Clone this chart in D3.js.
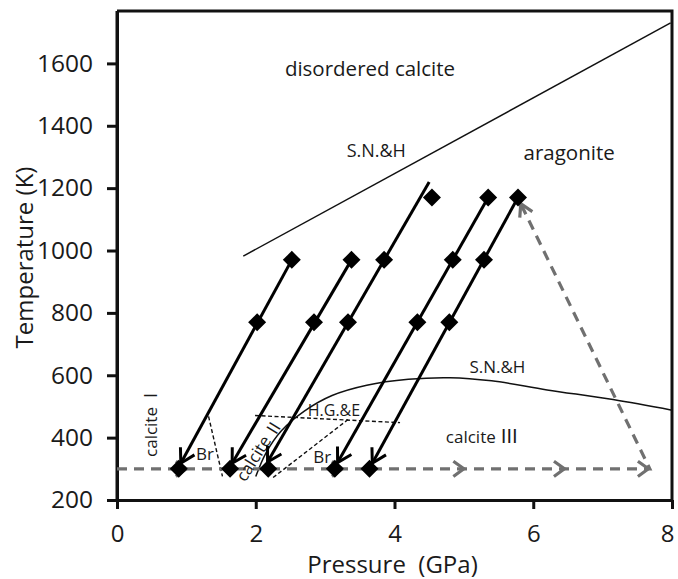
<!DOCTYPE html>
<html>
<head>
<meta charset="utf-8">
<script src="https://cdnjs.cloudflare.com/ajax/libs/d3/7.8.5/d3.min.js"></script>
<style>
  html, body { margin: 0; padding: 0; background: #fff; }
  svg { display: block; }
  text { font-family: "Open Sans", "Noto Sans", sans-serif; fill: #1a1a1a; }
  .rn { font-family: "Noto Sans CJK JP", serif; }
</style>
</head>
<body>
<svg id="chart" width="678" height="579"></svg>
<script>
// ---------- data ----------
const xTicks = [0, 2, 4, 6, 8];
const yTicks = [200, 400, 600, 800, 1000, 1200, 1400, 1600];

// solid compression paths (start at high T, arrow to ~300 K)
const pathStartP = [2.52, 3.38, 4.50, 5.35, 5.78];
const pathStartT = [970, 970, 1220, 1170, 1170];
const pathTipP   = [0.92, 1.66, 2.17, 3.18, 3.68];
const pathTipT   = [318, 318, 322, 320, 318];

// diamond markers
const diamondP = [2.52, 3.38, 3.85, 4.84, 5.29,
                  2.02, 2.84, 3.33, 4.33, 4.79,
                  4.54, 5.35, 5.78,
                  0.89, 1.63, 2.18, 3.14, 3.64];
const diamondT = [970, 970, 970, 970, 970,
                  770, 770, 770, 770, 770,
                  1170, 1170, 1170,
                  300, 300, 300, 300, 300];

// grey dashed path (room-temperature compression then heating)
const greyP = [0, 7.68, 5.82];
const greyT = [300, 300, 1150];
const chevronP = [1.0, 3.25, 5.0, 6.45, 7.66];

// phase boundaries
const upperBoundP = [1.82, 7.98];
const upperBoundT = [982, 1730];
const lowerBoundP = [2.0, 2.15, 2.37, 2.7, 3.1, 3.6, 4.2, 4.8, 5.4, 6.2, 7.15, 8.0];
const lowerBoundT = [275, 352, 422, 485, 535, 568, 587, 592, 582, 553, 522, 488];

// dotted boundaries
const brP = [1.32, 1.52];
const brT = [468, 276];
const hgeP = [1.99, 4.08];
const hgeT = [471, 448];
const diagP = [2.25, 3.33];
const diagT = [272, 458];

// ---------- scales ----------
const svg = d3.select("#chart");
const x = d3.scaleLinear().domain([0, 8]).range([117, 672]);
const y = d3.scaleLinear().domain([200, 1768]).range([500, 11]);

const zip = (a, b) => a.map((v, i) => [v, b[i]]);
const line = d3.line().x(d => x(d[0])).y(d => y(d[1]));

// ---------- axes ----------
const gx = svg.append("g").attr("transform", `translate(0,${y(200)})`)
  .call(d3.axisBottom(x).tickValues(xTicks).tickSize(9).tickSizeOuter(0).tickPadding(16).tickFormat(d3.format("d")));
const gy = svg.append("g").attr("transform", `translate(${x(0)},0)`)
  .call(d3.axisLeft(y).tickValues(yTicks).tickSize(10).tickSizeOuter(0).tickPadding(14).tickFormat(d3.format("d")));
[gx, gy].forEach(g => {
  g.selectAll("path.domain").attr("stroke", "#111").attr("stroke-width", 3);
  g.selectAll(".tick line").attr("stroke", "#111").attr("stroke-width", 3);
  g.selectAll(".tick text").attr("font-size", 24.5).attr("font-family", "'Open Sans', sans-serif").attr("fill", "#1a1a1a");
});
gx.selectAll(".tick text").attr("font-size", 24).filter(d => d === 8).attr("dx", -5);

// frame top & right
svg.append("path")
  .attr("d", `M${x(0)},${y(1768)} L${x(8)},${y(1768)} L${x(8)},${y(200)}`)
  .attr("fill", "none").attr("stroke", "#111").attr("stroke-width", 3);
svg.append("line").attr("x1", x(0)).attr("x2", x(0)).attr("y1", y(1768)).attr("y2", y(200))
  .attr("stroke", "#111").attr("stroke-width", 3);

// axis titles
svg.append("text").attr("x", x(4) - 2).attr("y", 573).attr("text-anchor", "middle")
  .attr("font-size", 24).attr("xml:space", "preserve").text("Pressure  (GPa)");
svg.append("text").attr("transform", `translate(33,${y(1000) + 7}) rotate(-90)`)
  .attr("text-anchor", "middle").attr("font-size", 24).text("Temperature (K)");

// ---------- boundaries ----------
svg.append("path").attr("d", line(zip(upperBoundP, upperBoundT)))
  .attr("fill", "none").attr("stroke", "#111").attr("stroke-width", 1.5);
svg.append("path").attr("d", line.curve(d3.curveCatmullRom)(zip(lowerBoundP, lowerBoundT)))
  .attr("fill", "none").attr("stroke", "#111").attr("stroke-width", 1.5);
line.curve(d3.curveLinear);

[[brP, brT], [hgeP, hgeT], [diagP, diagT]].forEach(([p, t]) => {
  svg.append("path").attr("d", line(zip(p, t)))
    .attr("fill", "none").attr("stroke", "#111").attr("stroke-width", 1.4)
    .attr("stroke-dasharray", "4,2.5");
});

// ---------- grey dashed path ----------
const greyCol = "#707070";
svg.append("path").attr("d", line(zip(greyP, greyT)))
  .attr("fill", "none").attr("stroke", greyCol).attr("stroke-width", 3.2)
  .attr("stroke-dasharray", "10,7");

function chevron(tx, ty, fx, fy, len, ang, col, w) {
  const dx = fx - tx, dy = fy - ty, L = Math.hypot(dx, dy);
  const ux = dx / L, uy = dy / L;
  const ca = Math.cos(ang), sa = Math.sin(ang);
  const a1 = [tx + len * (ux * ca - uy * sa), ty + len * (ux * sa + uy * ca)];
  const a2 = [tx + len * (ux * ca + uy * sa), ty + len * (-ux * sa + uy * ca)];
  svg.append("path")
    .attr("d", `M${a1[0]},${a1[1]} L${tx},${ty} L${a2[0]},${a2[1]}`)
    .attr("fill", "none").attr("stroke", col).attr("stroke-width", w)
    .attr("stroke-linejoin", "miter").attr("stroke-linecap", "butt");
}
chevronP.forEach(p => {
  chevron(x(p), y(300), x(p) - 10, y(300), 13, Math.PI / 5, greyCol, 3.2);
});
chevron(x(greyP[2]), y(greyT[2]), x(greyP[1]), y(greyT[1]), 14, Math.PI / 6, greyCol, 3.2);

// ---------- solid compression paths ----------
pathStartP.forEach((p, i) => {
  const sx = x(p), sy = y(pathStartT[i]);
  const tx = x(pathTipP[i]), ty = y(pathTipT[i]);
  svg.append("line").attr("x1", sx).attr("y1", sy).attr("x2", tx).attr("y2", ty)
    .attr("stroke", "#000").attr("stroke-width", 3);
  chevron(tx, ty, sx, sy, 16, Math.PI / 6, "#000", 3);
});

// ---------- diamonds ----------
const r = 9;
svg.append("g").selectAll("path").data(zip(diamondP, diamondT)).join("path")
  .attr("d", d => {
    const cx = x(d[0]), cy = y(d[1]);
    return `M${cx},${cy - r} L${cx + r},${cy} L${cx},${cy + r} L${cx - r},${cy} Z`;
  })
  .attr("fill", "#000");

// ---------- labels ----------
function label(txt, p, t, size) {
  return svg.append("text").attr("x", x(p)).attr("y", y(t)).attr("font-size", size).text(txt);
}
label("disordered calcite", 2.42, 1560, 20.5);
label("S.N.&H", 3.31, 1301, 18);
label("aragonite", 5.86, 1290, 20.5);
label("S.N.&H", 5.08, 606, 17);
label("Br", 1.14, 328, 17);
label("Br", 2.83, 319, 17);
label("H.G.&E", 2.75, 469, 16);

const c3 = svg.append("text").attr("x", x(4.74)).attr("y", y(384)).attr("font-size", 17);
c3.append("tspan").text("calcite");
c3.append("tspan").attr("class", "rn").attr("font-size", 19).attr("dx", 4).text("Ⅲ");

const c1 = svg.append("text").attr("transform", `translate(${x(0.58)},${y(338)}) rotate(-90)`).attr("font-size", 17);
c1.append("tspan").text("calcite");
c1.append("tspan").attr("class", "rn").attr("font-size", 17).attr("dx", 3).text("Ⅰ");

const c2 = svg.append("text").attr("transform", `translate(${x(2.03)},${y(362)}) rotate(-58)`)
  .attr("text-anchor", "middle").attr("dominant-baseline", "central").attr("font-size", 17);
c2.append("tspan").text("calcite");
c2.append("tspan").attr("class", "rn").attr("font-size", 17).attr("dx", 3).text("Ⅱ");
</script>
</body>
</html>
